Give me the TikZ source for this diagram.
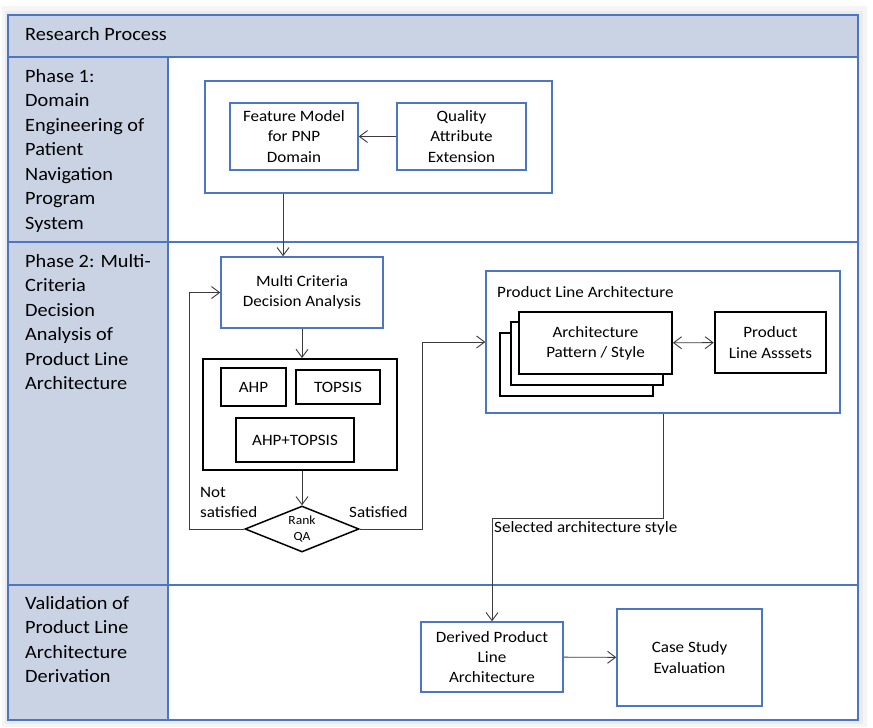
\documentclass[tikz,border=0pt]{standalone}
\usepackage{fontspec}
\setmainfont{Carlito}[FakeStretch=1.08]
\usetikzlibrary{arrows.meta,shapes.geometric,positioning}
\definecolor{laneblue}{HTML}{4A76C4}
\definecolor{lanefill}{HTML}{CAD3E4}
\definecolor{linegray}{HTML}{3C3C3C}
\tikzset{
  bluebox/.style={draw=laneblue,line width=1.5pt,fill=white,align=center,inner sep=2pt,
    font=\fontsize{15.8}{20.3}\selectfont},
  blackbox/.style={draw=black,line width=2.5pt,fill=white,align=center,inner sep=2pt,
    font=\fontsize{15.8}{20.3}\selectfont},
  lanetext/.style={anchor=north west,align=left,inner sep=0pt,
    font=\fontsize{18.8}{24.5}\selectfont},
  conn/.style={draw=linegray,line width=0.9pt},
  lbl/.style={inner sep=0pt,font=\fontsize{15.8}{20}\selectfont}
}
\begin{document}
\begin{tikzpicture}[x=1pt,y=-1pt,>={Straight Barb[length=8pt,width=12pt]}]
% page and frame
\fill[white] (0,0) rectangle (873,728);
\useasboundingbox (0,0) rectangle (873,728);
\fill[black!4] (2,6) rectangle (867,727);
\fill[black!8] (5,11) rectangle (863,724);
\fill[white] (8,15) rectangle (858,720);
\fill[lanefill] (8,15) rectangle (858,57);
\fill[lanefill] (8,57) rectangle (168,720);
\draw[laneblue,line width=1.5pt] (8,15) rectangle (858,720);
\draw[laneblue,line width=1.5pt] (8,57) -- (858,57);
\draw[laneblue,line width=1.5pt] (8,242) -- (858,242);
\draw[laneblue,line width=1.5pt] (8,585) -- (858,585);
\draw[laneblue,line width=1.5pt] (168,57) -- (168,720);
\node[lbl,anchor=west,font=\fontsize{18.8}{24.5}\selectfont] (title) at (25,34) {Research Process};
\node[lanetext] (lane1) at (25,69) {Phase 1:\\Domain\\Engineering of\\Patient\\Navigation\\Program\\System};
\node[lanetext] (lane2) at (25,254) {Phase 2: Multi-\\Criteria\\Decision\\Analysis of\\Product Line\\Architecture};
\node[lanetext] (lane3) at (25,596) {Validation of\\Product Line\\Architecture\\Derivation};

% phase 1
\node[bluebox,minimum width=347,minimum height=112] (p1group) at (378.5,137) {};
\node[bluebox,minimum width=128,minimum height=67] (featm) at (294,136.5) {Feature Model\\for PNP\\Domain};
\node[bluebox,minimum width=129,minimum height=67] (qual) at (461.5,136.5) {Quality\\Attribute\\Extension};
\draw[conn,->] (qual) -- (featm);

% phase 2
\node[bluebox,minimum width=162,minimum height=71] (mcda) at (302,292.5) {Multi Criteria\\Decision Analysis};
\node[draw=black,line width=2pt,fill=white,minimum width=194,minimum height=111] (methods) at (300,414.5) {};
\node[blackbox,minimum width=65,minimum height=38] (ahp) at (253.5,387) {AHP};
\node[blackbox,minimum width=84,minimum height=34] (topsis) at (338,387) {TOPSIS};
\node[blackbox,minimum width=118,minimum height=44] (ahptop) at (295,440) {AHP+TOPSIS};
\node[diamond,draw=black,line width=1.5pt,fill=white,aspect=2.5,inner sep=0pt,
  minimum width=114,minimum height=46,align=center,font=\fontsize{12.5}{16}\selectfont] (rank) at (302,529) {Rank\\QA};

\node[bluebox,minimum width=354,minimum height=142] (pla) at (663,342) {};
\node[lbl,anchor=west] (platitle) at (497,292) {Product Line Architecture};
\node[blackbox,minimum width=153,minimum height=63] (stack3) at (576.5,364.5) {};
\node[blackbox,minimum width=152,minimum height=63] (stack2) at (587,353.5) {};
\node[blackbox,line width=1.8pt,minimum width=153,minimum height=62] (pattern) at (595.5,343) {Architecture\\Pattern / Style};
\node[blackbox,minimum width=111,minimum height=61] (assets) at (770.5,342.5) {Product\\Line Asssets};
\draw[conn,<->] (pattern) -- (assets);

\coordinate (drop1) at (283,0);
\coordinate (loopx) at (189,0);
\coordinate (satx) at (422,0);
\coordinate (bendy) at (0,518);
\draw[conn,->] (p1group.south -| drop1) -- (mcda.north -| drop1);
\draw[conn,->] (mcda.south) -- (mcda.south |- methods.north);
\draw[conn,->] (rank.north |- methods.south) -- (rank.north);
\draw[conn,->] (rank.west) -- (rank.west -| loopx) |- (mcda.west);
\draw[conn,->] (rank.east) -- (rank.east -| satx) |- (pla.west);
\node[lbl,anchor=west,align=left] (notsat) at (200,502) {Not\\satisfied};
\node[lbl,anchor=west] (sat) at (349,512) {Satisfied};

% validation
\node[bluebox,minimum width=142,minimum height=70] (derived) at (492,657) {Derived Product\\Line\\Architecture};
\node[bluebox,minimum width=145,minimum height=97] (casest) at (689.5,657.5) {Case Study\\Evaluation};
\draw[conn,->] (pla.south) -- (pla.south |- bendy) -| (derived.north);
\node[lbl,anchor=west] (selstyle) at (494,528) {Selected architecture style};
\draw[conn,->] (derived) -- (casest);
\end{tikzpicture}
\end{document}
